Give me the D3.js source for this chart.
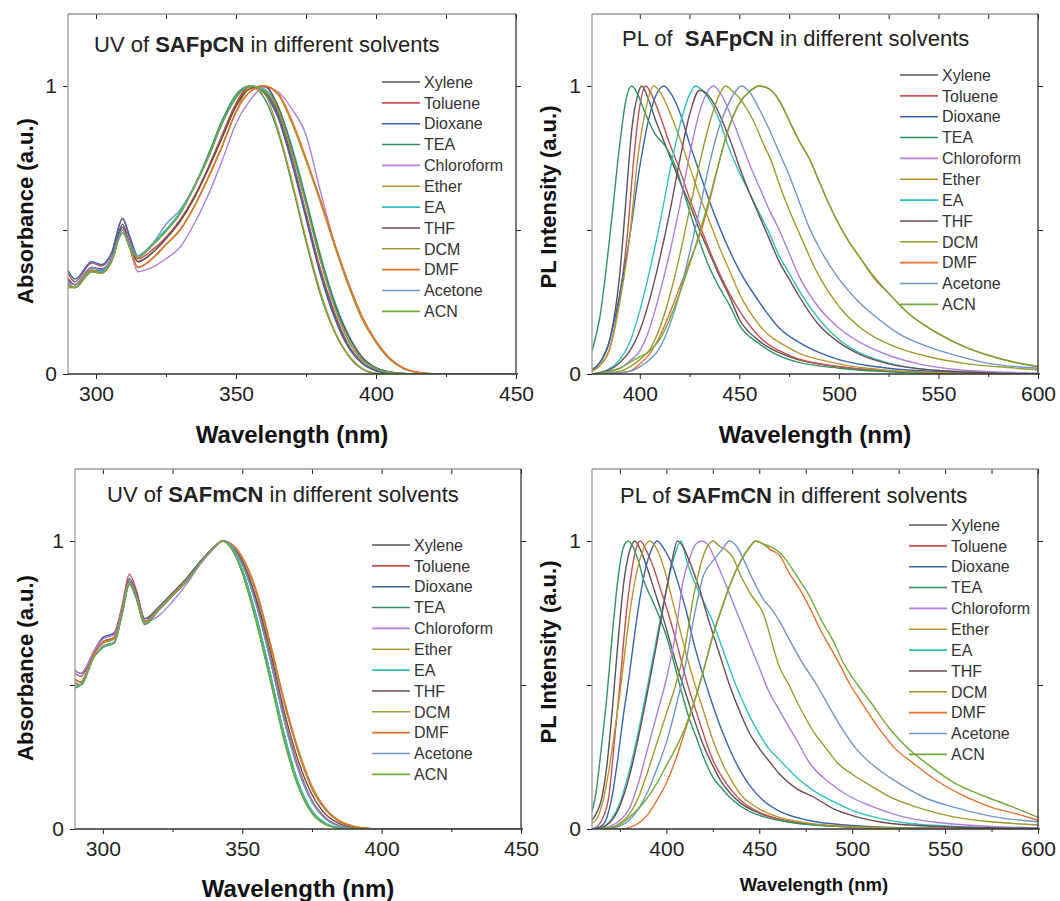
<!DOCTYPE html>
<html>
<head>
<meta charset="utf-8">
<script src="https://cdn.jsdelivr.net/npm/d3@7"></script>
<style>
body { margin: 0; background: #fff; }
svg { display: block; font-family: "Liberation Sans", Arial, sans-serif; }
</style>
</head>
<body>
<div id="chart"></div>
<script>
// solvents, in legend order
var solvents = ['Xylene','Toluene','Dioxane','TEA','Chloroform','Ether','EA','THF','DCM','DMF','Acetone','ACN'];
var colors = ['#555555','#c8504f','#3465b0','#2e9463','#b27be0','#b8962f','#2ec0c0','#6e4a4e','#9b9b2a','#e8702a','#6f96c8','#6faa3a'];

// UV of SAFpCN: wavelength grid + absorbance per solvent
var uvP_wl = [290,292.5,298.5,302,305.5,309.5,312,315,320,325,330,335,340,345,350,355,360,365,370,375,380,385,390,395,400,405,410,415,420,450];
var uvP_abs = [
  [0.33,0.31,0.37,0.365,0.40,0.52,0.45,0.39,0.42,0.47,0.53,0.61,0.71,0.82,0.93,1.0,0.98,0.90,0.74,0.55,0.36,0.21,0.10,0.04,0.012,0.003,0,0,0,0],
  [0.35,0.32,0.385,0.375,0.415,0.54,0.47,0.40,0.43,0.475,0.535,0.615,0.715,0.83,0.94,1.0,0.985,0.91,0.75,0.56,0.37,0.22,0.105,0.042,0.013,0.003,0,0,0,0],
  [0.36,0.33,0.39,0.38,0.42,0.54,0.48,0.41,0.45,0.50,0.56,0.65,0.75,0.87,0.96,1.0,0.975,0.89,0.73,0.54,0.35,0.20,0.095,0.037,0.011,0.003,0,0,0,0],
  [0.31,0.30,0.36,0.355,0.39,0.50,0.45,0.41,0.45,0.50,0.56,0.65,0.76,0.88,0.97,1.0,0.96,0.84,0.66,0.46,0.28,0.15,0.065,0.018,0.002,0,0,0,0,0],
  [0.33,0.31,0.37,0.36,0.40,0.51,0.44,0.355,0.37,0.40,0.44,0.52,0.62,0.74,0.87,0.95,0.995,0.98,0.92,0.83,0.64,0.46,0.32,0.20,0.11,0.05,0.018,0.005,0.001,0],
  [0.31,0.30,0.36,0.35,0.39,0.50,0.44,0.37,0.40,0.45,0.50,0.58,0.68,0.79,0.91,0.995,0.975,0.85,0.67,0.47,0.29,0.155,0.068,0.02,0.003,0,0,0,0,0],
  [0.32,0.30,0.36,0.355,0.40,0.49,0.45,0.41,0.45,0.50,0.56,0.65,0.75,0.87,0.96,1.0,0.99,0.93,0.79,0.61,0.42,0.26,0.14,0.06,0.022,0.007,0.002,0,0,0],
  [0.33,0.31,0.37,0.36,0.40,0.51,0.45,0.39,0.42,0.47,0.53,0.61,0.71,0.82,0.93,0.99,1.0,0.93,0.78,0.60,0.41,0.25,0.135,0.058,0.021,0.007,0.002,0,0,0],
  [0.30,0.30,0.355,0.35,0.39,0.50,0.44,0.37,0.40,0.45,0.50,0.58,0.68,0.79,0.91,0.98,1.0,0.97,0.87,0.74,0.60,0.45,0.31,0.19,0.11,0.05,0.018,0.005,0.001,0],
  [0.31,0.30,0.36,0.35,0.39,0.50,0.44,0.37,0.40,0.45,0.50,0.58,0.68,0.79,0.91,0.98,1.0,0.975,0.88,0.75,0.61,0.46,0.32,0.20,0.115,0.055,0.02,0.006,0.001,0],
  [0.32,0.31,0.37,0.36,0.40,0.50,0.45,0.41,0.45,0.52,0.57,0.65,0.75,0.87,0.96,1.0,0.985,0.92,0.77,0.59,0.40,0.24,0.12,0.05,0.018,0.005,0.001,0,0,0],
  [0.30,0.30,0.355,0.35,0.39,0.49,0.44,0.405,0.445,0.495,0.555,0.645,0.75,0.87,0.96,1.0,0.985,0.92,0.77,0.59,0.40,0.24,0.12,0.05,0.018,0.005,0.001,0,0,0]
];

// UV of SAFmCN
var uvM_wl = [290,292,297,300,304,307,309.5,312,315,320,325,330,335,340,343,346,350,355,360,365,370,375,380,385,390,395,400,450];
var uvM_abs = [
  [0.52,0.51,0.61,0.65,0.665,0.76,0.86,0.81,0.72,0.765,0.815,0.865,0.925,0.98,1.0,0.985,0.92,0.78,0.59,0.38,0.21,0.095,0.035,0.01,0.002,0,0,0],
  [0.54,0.53,0.62,0.665,0.68,0.78,0.885,0.83,0.73,0.77,0.82,0.87,0.93,0.98,1.0,0.985,0.925,0.79,0.60,0.39,0.22,0.10,0.038,0.011,0.002,0,0,0],
  [0.55,0.54,0.62,0.665,0.68,0.77,0.87,0.82,0.73,0.77,0.82,0.87,0.93,0.98,1.0,0.98,0.90,0.74,0.54,0.33,0.16,0.06,0.018,0.004,0,0,0,0],
  [0.49,0.50,0.60,0.63,0.645,0.75,0.85,0.80,0.71,0.76,0.81,0.86,0.925,0.98,1.0,0.975,0.89,0.72,0.52,0.31,0.15,0.055,0.015,0.003,0,0,0,0],
  [0.55,0.54,0.62,0.66,0.675,0.77,0.86,0.81,0.72,0.74,0.79,0.85,0.92,0.975,1.0,0.99,0.94,0.82,0.64,0.44,0.27,0.14,0.065,0.025,0.008,0.002,0,0],
  [0.51,0.50,0.61,0.645,0.66,0.76,0.86,0.81,0.72,0.765,0.815,0.865,0.925,0.98,1.0,0.98,0.90,0.74,0.54,0.33,0.16,0.06,0.018,0.004,0,0,0,0],
  [0.49,0.50,0.60,0.63,0.645,0.75,0.85,0.80,0.71,0.76,0.81,0.86,0.925,0.98,1.0,0.98,0.90,0.74,0.54,0.33,0.165,0.065,0.02,0.005,0,0,0,0],
  [0.52,0.51,0.61,0.65,0.665,0.76,0.86,0.81,0.72,0.765,0.815,0.865,0.925,0.98,1.0,0.99,0.93,0.80,0.62,0.41,0.24,0.12,0.05,0.018,0.005,0.001,0,0],
  [0.51,0.50,0.61,0.645,0.66,0.76,0.86,0.81,0.72,0.765,0.815,0.865,0.925,0.98,1.0,0.99,0.94,0.82,0.64,0.44,0.27,0.14,0.065,0.025,0.008,0.002,0,0],
  [0.52,0.51,0.61,0.65,0.665,0.76,0.86,0.81,0.72,0.765,0.815,0.865,0.925,0.98,1.0,0.99,0.945,0.83,0.65,0.45,0.28,0.15,0.07,0.028,0.01,0.003,0,0],
  [0.50,0.50,0.60,0.635,0.65,0.755,0.855,0.805,0.715,0.76,0.81,0.86,0.925,0.98,1.0,0.985,0.92,0.78,0.59,0.38,0.21,0.095,0.035,0.01,0.002,0,0,0],
  [0.49,0.50,0.60,0.63,0.645,0.75,0.85,0.80,0.71,0.76,0.81,0.86,0.925,0.98,1.0,0.975,0.89,0.72,0.52,0.31,0.15,0.055,0.015,0.003,0,0,0,0]
];

// PL of SAFpCN, [wavelength, intensity] per solvent
var plP = [
  [[376,0.015],[380,0.04],[385,0.12],[390,0.35],[393,0.6],[396,0.85],[399,0.97],[401,1.0],[404,0.96],[408,0.88],[412,0.81],[416,0.74],[420,0.67],[425,0.59],[430,0.50],[435,0.42],[440,0.34],[445,0.27],[450,0.19],[460,0.115],[475,0.06],[500,0.025],[525,0.01],[550,0.004],[600,0]],
  [[376,0.01],[380,0.03],[385,0.09],[390,0.27],[394,0.5],[397,0.75],[400,0.93],[403,1.0],[406,0.97],[410,0.90],[415,0.80],[420,0.71],[425,0.61],[430,0.52],[435,0.43],[440,0.35],[445,0.28],[450,0.22],[460,0.13],[475,0.065],[500,0.025],[525,0.01],[550,0.004],[600,0]],
  [[376,0.01],[380,0.04],[385,0.12],[390,0.28],[395,0.48],[400,0.72],[405,0.90],[409,0.98],[412,1.0],[416,0.97],[420,0.91],[425,0.80],[430,0.70],[435,0.60],[440,0.51],[445,0.43],[450,0.36],[460,0.25],[470,0.16],[480,0.11],[490,0.075],[500,0.05],[525,0.02],[550,0.008],[600,0]],
  [[376,0.08],[380,0.2],[385,0.48],[390,0.80],[393,0.95],[396,1.0],[399,0.97],[403,0.90],[408,0.83],[413,0.79],[418,0.72],[423,0.61],[428,0.50],[435,0.37],[440,0.30],[445,0.24],[450,0.17],[460,0.105],[475,0.05],[500,0.02],[525,0.008],[550,0.003],[600,0]],
  [[376,0],[390,0.02],[395,0.045],[400,0.08],[405,0.16],[410,0.28],[415,0.42],[420,0.58],[425,0.76],[430,0.91],[434,0.98],[437,1.0],[441,0.97],[445,0.91],[450,0.82],[455,0.73],[460,0.65],[465,0.57],[470,0.50],[475,0.42],[480,0.34],[490,0.23],[500,0.16],[515,0.094],[525,0.065],[540,0.035],[560,0.015],[580,0.007],[600,0.003]],
  [[376,0.01],[380,0.03],[385,0.09],[390,0.25],[395,0.48],[399,0.75],[403,0.92],[407,1.0],[411,0.97],[415,0.91],[420,0.82],[425,0.72],[430,0.62],[435,0.53],[440,0.44],[445,0.36],[450,0.28],[460,0.17],[475,0.09],[500,0.035],[525,0.013],[550,0.005],[600,0]],
  [[376,0],[385,0.02],[390,0.05],[395,0.11],[400,0.22],[405,0.36],[410,0.52],[415,0.70],[420,0.86],[425,0.97],[428,1.0],[432,0.98],[436,0.94],[440,0.88],[445,0.78],[450,0.70],[455,0.63],[460,0.56],[465,0.49],[470,0.41],[475,0.35],[480,0.29],[490,0.19],[500,0.12],[510,0.075],[525,0.038],[550,0.012],[575,0.004],[600,0]],
  [[376,0],[385,0.015],[390,0.04],[395,0.08],[400,0.15],[405,0.26],[410,0.40],[415,0.56],[420,0.74],[425,0.90],[430,0.985],[434,0.97],[438,0.93],[442,0.87],[446,0.80],[450,0.72],[455,0.63],[460,0.55],[465,0.47],[470,0.39],[475,0.33],[480,0.27],[490,0.17],[500,0.11],[510,0.07],[525,0.035],[550,0.012],[575,0.004],[600,0]],
  [[376,0],[390,0.01],[395,0.025],[400,0.05],[405,0.085],[410,0.16],[415,0.27],[420,0.41],[425,0.57],[430,0.73],[435,0.87],[440,0.97],[443,1.0],[447,0.98],[452,0.94],[457,0.88],[462,0.80],[466,0.74],[470,0.66],[475,0.57],[480,0.49],[490,0.34],[500,0.235],[510,0.165],[520,0.12],[530,0.09],[545,0.06],[563,0.037],[580,0.025],[600,0.015]],
  [[376,0],[390,0.003],[395,0.01],[400,0.035],[405,0.07],[410,0.13],[415,0.21],[420,0.30],[425,0.39],[430,0.48],[435,0.60],[440,0.74],[445,0.86],[450,0.94],[455,0.98],[460,1.0],[465,0.99],[470,0.95],[475,0.88],[480,0.81],[485,0.75],[490,0.67],[495,0.59],[500,0.52],[505,0.46],[510,0.41],[518,0.33],[525,0.28],[535,0.21],[550,0.14],[563,0.094],[575,0.065],[590,0.038],[600,0.025]],
  [[376,0],[395,0.01],[400,0.025],[405,0.05],[410,0.09],[415,0.17],[420,0.28],[425,0.42],[430,0.57],[435,0.73],[440,0.86],[444,0.93],[448,0.98],[451,1.0],[455,0.98],[460,0.92],[465,0.85],[470,0.77],[475,0.69],[480,0.60],[485,0.51],[490,0.44],[500,0.33],[510,0.25],[520,0.19],[530,0.14],[545,0.094],[560,0.062],[575,0.037],[590,0.025],[600,0.02]],
  [[376,0],[385,0.01],[390,0.02],[395,0.04],[400,0.06],[405,0.08],[410,0.12],[415,0.19],[420,0.28],[425,0.38],[430,0.49],[435,0.61],[440,0.74],[445,0.86],[450,0.94],[455,0.98],[460,1.0],[465,0.99],[470,0.95],[475,0.88],[480,0.81],[485,0.75],[490,0.67],[495,0.59],[500,0.52],[505,0.46],[510,0.41],[518,0.335],[525,0.28],[535,0.21],[550,0.14],[563,0.095],[575,0.065],[590,0.038],[600,0.027]]
];

// PL of SAFmCN
var plM = [
  [[360,0.03],[362,0.05],[365,0.1],[368,0.22],[371,0.42],[374,0.65],[377,0.85],[380,0.96],[383,1.0],[386,0.97],[390,0.90],[394,0.82],[398,0.74],[402,0.65],[406,0.56],[410,0.48],[415,0.38],[420,0.29],[425,0.22],[430,0.16],[435,0.12],[440,0.09],[450,0.055],[460,0.035],[475,0.018],[500,0.007],[530,0.002],[600,0]],
  [[360,0],[363,0.01],[366,0.04],[369,0.11],[372,0.30],[375,0.50],[378,0.72],[381,0.88],[384,0.98],[386,1.0],[389,0.97],[393,0.91],[397,0.83],[401,0.75],[405,0.66],[409,0.56],[412,0.49],[416,0.41],[420,0.33],[425,0.24],[430,0.18],[435,0.135],[440,0.10],[450,0.058],[460,0.035],[475,0.018],[500,0.007],[530,0.002],[600,0]],
  [[360,0],[365,0.01],[368,0.04],[371,0.12],[374,0.25],[377,0.40],[380,0.53],[383,0.68],[386,0.81],[389,0.91],[392,0.97],[395,1.0],[399,0.97],[403,0.92],[407,0.84],[411,0.75],[415,0.64],[420,0.53],[425,0.43],[430,0.34],[436,0.25],[440,0.2],[445,0.15],[452,0.1],[460,0.065],[475,0.032],[500,0.012],[530,0.004],[600,0]],
  [[360,0.06],[362,0.12],[365,0.28],[368,0.46],[371,0.68],[374,0.87],[377,0.98],[379.5,1.0],[382,0.98],[385,0.93],[388,0.86],[392,0.80],[396,0.74],[400,0.67],[404,0.58],[408,0.48],[412,0.39],[416,0.32],[420,0.25],[425,0.18],[430,0.14],[435,0.105],[445,0.06],[455,0.038],[470,0.02],[490,0.01],[520,0.004],[560,0.001],[600,0]],
  [[360,0],[370,0.01],[375,0.03],[380,0.07],[385,0.16],[390,0.28],[395,0.40],[400,0.52],[405,0.68],[409,0.86],[412,0.93],[416,0.99],[419,1.0],[422,0.99],[426,0.94],[430,0.88],[435,0.80],[440,0.72],[445,0.64],[450,0.56],[455,0.48],[461,0.41],[470,0.31],[477,0.23],[488,0.16],[499,0.112],[510,0.08],[527,0.043],[550,0.02],[575,0.009],[600,0.004]],
  [[360,0.02],[363,0.04],[366,0.1],[369,0.2],[372,0.33],[375,0.47],[378,0.63],[381,0.78],[384,0.89],[387,0.96],[391,1.0],[395,0.97],[399,0.90],[403,0.80],[407,0.70],[411,0.60],[415,0.51],[420,0.41],[425,0.31],[430,0.23],[435,0.17],[440,0.12],[450,0.07],[460,0.042],[475,0.022],[500,0.008],[530,0.003],[600,0]],
  [[360,0],[365,0.005],[370,0.03],[375,0.09],[380,0.2],[385,0.34],[390,0.50],[395,0.67],[400,0.83],[404,0.94],[408,1.0],[411,0.93],[415,0.86],[420,0.79],[425,0.72],[430,0.63],[435,0.54],[440,0.46],[445,0.39],[450,0.33],[455,0.28],[461,0.24],[470,0.18],[480,0.13],[490,0.095],[500,0.065],[511,0.043],[530,0.02],[560,0.008],[600,0.002]],
  [[360,0],[365,0.005],[370,0.025],[375,0.08],[380,0.18],[385,0.32],[390,0.48],[395,0.65],[400,0.83],[403,0.93],[406,1.0],[409,0.98],[413,0.92],[418,0.83],[423,0.72],[428,0.62],[434,0.50],[440,0.40],[445,0.33],[450,0.28],[456,0.23],[461,0.19],[470,0.14],[479,0.112],[490,0.07],[502,0.043],[520,0.02],[550,0.008],[600,0.002]],
  [[360,0],[370,0.005],[375,0.02],[380,0.05],[385,0.11],[390,0.2],[395,0.3],[400,0.4],[405,0.5],[410,0.63],[415,0.82],[420,0.95],[425,1.0],[429,0.98],[432,0.97],[436,0.94],[440,0.88],[445,0.82],[452,0.75],[461,0.56],[466,0.50],[472,0.42],[479,0.34],[486,0.28],[492,0.23],[500,0.19],[510,0.15],[520,0.112],[535,0.075],[554,0.043],[575,0.025],[600,0.014]],
  [[360,0],[375,0],[380,0.005],[385,0.02],[390,0.05],[395,0.10],[400,0.16],[405,0.24],[410,0.34],[415,0.44],[420,0.55],[425,0.67],[430,0.77],[435,0.86],[440,0.93],[445,0.98],[448,1.0],[452,0.99],[456,0.97],[461,0.95],[466,0.89],[472,0.83],[477,0.77],[483,0.69],[490,0.61],[495,0.55],[499,0.5],[505,0.44],[515,0.344],[523,0.28],[533,0.228],[545,0.17],[561,0.112],[575,0.075],[590,0.05],[600,0.03]],
  [[360,0],[370,0.003],[375,0.01],[380,0.03],[385,0.07],[390,0.13],[395,0.21],[400,0.30],[405,0.42],[410,0.56],[415,0.74],[420,0.88],[425,0.93],[430,0.97],[434,1.0],[438,0.98],[442,0.93],[447,0.86],[452,0.80],[457,0.76],[461,0.72],[466,0.66],[472,0.59],[481,0.50],[488,0.42],[495,0.344],[502,0.28],[510,0.228],[520,0.18],[530,0.14],[538,0.112],[555,0.075],[576,0.043],[600,0.025]],
  [[360,0],[370,0.005],[375,0.015],[380,0.04],[385,0.07],[390,0.11],[395,0.16],[400,0.22],[405,0.28],[410,0.35],[415,0.44],[420,0.55],[425,0.67],[430,0.77],[435,0.86],[440,0.93],[445,0.98],[448,1.0],[452,0.99],[456,0.98],[461,0.96],[466,0.92],[472,0.86],[477,0.81],[483,0.73],[490,0.65],[495,0.58],[503,0.50],[510,0.44],[520,0.35],[530,0.28],[540,0.228],[555,0.16],[572,0.112],[585,0.08],[600,0.04]]
];

var yTicks = [0, 0.5, 1];

var W = 1060, H = 901;
var svg = d3.select('#chart').append('svg').attr('width', W).attr('height', H);

function pairs(wl, vals) { return vals.map(function(v) { return wl.map(function(w, i) { return [w, v[i]]; }); }); }

var panels = [
  {box:[68,516,14,374], xdom:[290,450], major:[300,350,400,450], minor:[325,375,425],
   series:pairs(uvP_wl, uvP_abs), title:['UV of ','SAFpCN',' in different solvents'], tpos:[94,52],
   xlab:[292,443,24], ylab:['Absorbance (a.u.)',33,211], leg:[382,82]},
  {box:[592,1038,14,374], xdom:[376,600], major:[400,450,500,550,600], minor:[425,475,525,575],
   series:plP, title:['PL of  ','SAFpCN',' in different solvents'], tpos:[622,46],
   xlab:[815,443,24], ylab:['PL Intensity (a.u.)',556,197], leg:[900,75]},
  {box:[75,521,469,829], xdom:[290,450], major:[300,350,400,450], minor:[325,375,425],
   series:pairs(uvM_wl, uvM_abs), title:['UV of ','SAFmCN',' in different solvents'], tpos:[107,502],
   xlab:[298,897,24], ylab:['Absorbance (a.u.)',33,668], leg:[372,545]},
  {box:[592,1038,469,829], xdom:[360,600], major:[400,450,500,550,600], minor:[375,425,475,525,575],
   series:plM, title:['PL of ','SAFmCN',' in different solvents'], tpos:[620,503],
   xlab:[814,891,18.5], ylab:['PL Intensity (a.u.)',556,652], leg:[909,525]}
];

panels.forEach(function(p, pi) {
  var l = p.box[0], r = p.box[1], t = p.box[2], b = p.box[3];
  var x = d3.scaleLinear().domain(p.xdom).range([l, r]);
  var y = d3.scaleLinear().domain([0, 1.25]).range([b, t]);
  var g = svg.append('g');

  g.append('clipPath').attr('id', 'clip' + pi)
    .append('rect').attr('x', l).attr('y', t).attr('width', r - l).attr('height', b - t);

  var line = d3.line().x(function(d) { return x(d[0]); }).y(function(d) { return y(d[1]); }).curve(d3.curveMonotoneX);

  g.append('g').attr('clip-path', 'url(#clip' + pi + ')')
    .selectAll('path').data(p.series).enter().append('path')
    .attr('d', line)
    .attr('fill', 'none')
    .attr('stroke', function(d, i) { return colors[i]; })
    .attr('stroke-width', 1.4);

  function styleAxis(sel) {
    sel.select('.domain').remove();
    sel.attr('font-family', null).attr('font-size', 21);
    sel.selectAll('line').attr('stroke', '#222');
    sel.selectAll('text').attr('fill', '#222');
  }

  g.append('g').attr('transform', 'translate(0,' + b + ')')
    .call(d3.axisBottom(x).tickValues(p.major).tickSize(5).tickPadding(7).tickFormat(d3.format('d')))
    .call(styleAxis);
  g.append('g').attr('transform', 'translate(0,' + b + ')')
    .call(d3.axisBottom(x).tickValues(p.minor).tickSize(3).tickFormat(''))
    .call(styleAxis);
  g.append('g').attr('transform', 'translate(0,' + t + ')')
    .call(d3.axisTop(x).tickValues(p.major.concat(p.minor)).tickSizeInner(-5).tickSizeOuter(0).tickFormat(''))
    .call(styleAxis);
  g.append('g').attr('transform', 'translate(' + l + ',0)')
    .call(d3.axisLeft(y).tickValues(yTicks).tickSize(5).tickPadding(6)
      .tickFormat(function(d) { return d === 0.5 ? '' : d3.format('d')(d); }))
    .call(styleAxis);
  g.append('g').attr('transform', 'translate(' + r + ',0)')
    .call(d3.axisRight(y).tickValues([0.5, 1]).tickSize(5).tickFormat(''))
    .call(styleAxis);

  // frame: light left/top, dark bottom/right
  g.append('line').attr('x1', l).attr('x2', l).attr('y1', t).attr('y2', b).attr('stroke', '#9a9a9a').attr('stroke-width', 1.3);
  g.append('line').attr('x1', l).attr('x2', r).attr('y1', t).attr('y2', t).attr('stroke', '#9a9a9a').attr('stroke-width', 1.3);
  g.append('line').attr('x1', l).attr('x2', r + 2).attr('y1', b).attr('y2', b).attr('stroke', '#333').attr('stroke-width', 1.3);
  g.append('line').attr('x1', r).attr('x2', r).attr('y1', t).attr('y2', b).attr('stroke', '#333').attr('stroke-width', 1.3);

  // title
  var tt = g.append('text').attr('x', p.tpos[0]).attr('y', p.tpos[1]).attr('font-size', 22).attr('fill', '#222')
    .attr('xml:space', 'preserve');
  tt.append('tspan').text(p.title[0]);
  tt.append('tspan').attr('font-weight', 'bold').text(p.title[1]);
  tt.append('tspan').text(p.title[2]);

  // axis titles
  g.append('text').attr('x', p.xlab[0]).attr('y', p.xlab[1]).attr('text-anchor', 'middle')
    .attr('font-weight', 'bold').attr('font-size', p.xlab[2]).attr('fill', '#111').text('Wavelength (nm)');
  g.append('text').attr('transform', 'translate(' + p.ylab[1] + ',' + p.ylab[2] + ')rotate(-90)')
    .attr('text-anchor', 'middle').attr('font-weight', 'bold').attr('font-size', 22).attr('fill', '#111')
    .text(p.ylab[0]);

  // legend
  var lg = g.append('g').attr('transform', 'translate(' + p.leg[0] + ',' + p.leg[1] + ')');
  var item = lg.selectAll('g').data(solvents).enter().append('g')
    .attr('transform', function(d, i) { return 'translate(0,' + (i * 20.85) + ')'; });
  item.append('line').attr('x1', 0).attr('x2', 38).attr('y1', 0).attr('y2', 0)
    .attr('stroke', function(d, i) { return colors[i]; }).attr('stroke-width', 1.6);
  item.append('text').attr('x', 42).attr('y', 0).attr('dy', '0.36em').attr('font-size', 16).attr('fill', '#333')
    .text(function(d) { return d; });
});
</script>
</body>
</html>
